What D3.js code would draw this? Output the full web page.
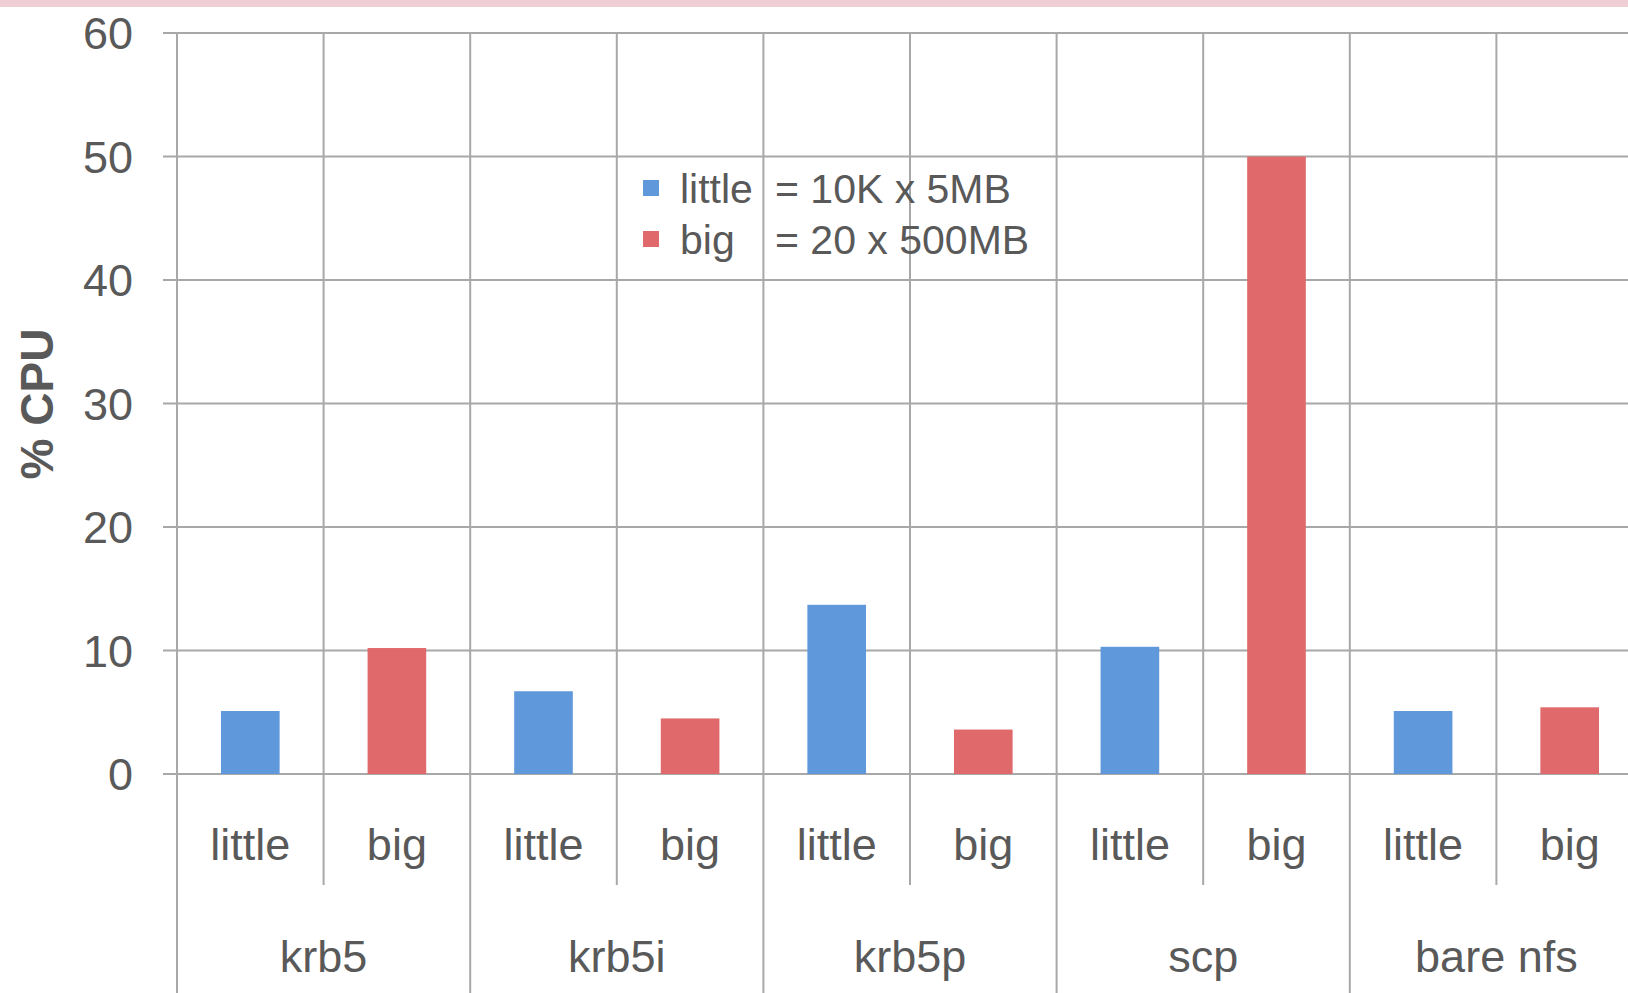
<!DOCTYPE html>
<html>
<head>
<meta charset="utf-8">
<script src="https://cdn.jsdelivr.net/npm/d3@7"></script>
<style>
  html, body { margin: 0; padding: 0; background: #fff; overflow: hidden; }
  svg { display: block; font-family: "Liberation Sans", Arial, sans-serif; }
</style>
</head>
<body>
<div id="chart"></div>
<script>
// data
const categories = ["krb5", "krb5i", "krb5p", "scp", "bare nfs"];
const sizes = ["little", "big"];
const littleValues = [5.1, 6.7, 13.7, 10.3, 5.1];
const bigValues = [10.2, 4.5, 3.6, 50, 5.4];
const yTicks = [0, 10, 20, 30, 40, 50, 60];
const legendNames = ["little", "big"];
const legendText = ["= 10K x 5MB", "= 20 x 500MB"];

const width = 1628, height = 993;
const colorLittle = "#6098dc";
const colorBig = "#e06a6b";
const colorText = "#595959";
const colorGrid = "#a8a8a8";

const plotLeft = 177, plotTop = 33, plotBottom = 774;
const slot = 146.6;

const svg = d3.select("#chart").append("svg")
    .attr("width", width)
    .attr("height", height);

// pink strip along the top
svg.append("rect")
    .attr("x", 0).attr("y", 0)
    .attr("width", width).attr("height", 7)
    .attr("fill", "#f0ced6");

const y = d3.scaleLinear().domain([0, 60]).range([plotBottom, plotTop]);

const x0 = d3.scaleBand()
    .domain(categories)
    .range([plotLeft, plotLeft + slot * 2 * categories.length]);

const x1 = d3.scaleBand()
    .domain(sizes)
    .range([0, x0.bandwidth()]);

// horizontal grid + tick stubs
svg.append("g")
    .selectAll("line")
    .data(yTicks)
    .join("line")
    .attr("x1", plotLeft - 14)
    .attr("x2", width)
    .attr("y1", d => y(d))
    .attr("y2", d => y(d))
    .attr("stroke", colorGrid)
    .attr("stroke-width", 2);

// vertical lines: category borders go to the bottom, size borders stop short
const catBorders = categories.map(c => x0(c));
svg.append("g")
    .selectAll("line")
    .data(catBorders)
    .join("line")
    .attr("x1", d => d).attr("x2", d => d)
    .attr("y1", plotTop).attr("y2", height)
    .attr("stroke", colorGrid)
    .attr("stroke-width", 2);

svg.append("g")
    .selectAll("line")
    .data(categories)
    .join("line")
    .attr("x1", d => x0(d) + x1("big"))
    .attr("x2", d => x0(d) + x1("big"))
    .attr("y1", plotTop).attr("y2", 885)
    .attr("stroke", colorGrid)
    .attr("stroke-width", 2);

// y tick labels
svg.append("g")
    .selectAll("text")
    .data(yTicks)
    .join("text")
    .attr("x", 133)
    .attr("y", d => y(d) + 16)
    .attr("text-anchor", "end")
    .attr("fill", colorText)
    .style("font-size", "45px")
    .text(d => d);

// y axis title
svg.append("text")
    .attr("transform", "translate(53,404) rotate(-90)")
    .attr("text-anchor", "middle")
    .attr("fill", colorText)
    .style("font-size", "46px")
    .style("font-weight", "bold")
    .text("% CPU");

// bars
const rows = categories.map((c, i) => ({ cat: c, little: littleValues[i], big: bigValues[i] }));
const barW = x1.bandwidth() * 0.4;
const colors = { little: colorLittle, big: colorBig };

svg.append("g")
    .selectAll("g")
    .data(rows)
    .join("g")
    .attr("transform", d => `translate(${x0(d.cat)},0)`)
    .selectAll("rect")
    .data(d => sizes.map(s => ({ size: s, value: d[s] })))
    .join("rect")
    .attr("x", d => x1(d.size) + (x1.bandwidth() - barW) / 2)
    .attr("width", barW)
    .attr("y", d => y(d.value))
    .attr("height", d => y(0) - y(d.value))
    .attr("fill", d => colors[d.size]);

// size labels under each bar
svg.append("g")
    .selectAll("g")
    .data(categories)
    .join("g")
    .attr("transform", d => `translate(${x0(d)},0)`)
    .selectAll("text")
    .data(sizes)
    .join("text")
    .attr("x", d => x1(d) + x1.bandwidth() / 2)
    .attr("y", 860)
    .attr("text-anchor", "middle")
    .attr("fill", colorText)
    .style("font-size", "45px")
    .text(d => d);

// category labels
svg.append("g")
    .selectAll("text")
    .data(categories)
    .join("text")
    .attr("x", d => x0(d) + x0.bandwidth() / 2)
    .attr("y", 972)
    .attr("text-anchor", "middle")
    .attr("fill", colorText)
    .style("font-size", "45px")
    .text(d => d);

// legend
const legend = svg.append("g")
    .selectAll("g")
    .data(legendNames)
    .join("g")
    .attr("transform", (d, i) => `translate(643,${203 + i * 51})`);

legend.append("rect")
    .attr("x", 0).attr("y", -23)
    .attr("width", 16).attr("height", 16)
    .attr("fill", d => colors[d]);

const legendLabel = legend.append("text")
    .attr("y", 0)
    .attr("fill", colorText)
    .style("font-size", "41px");

legendLabel.append("tspan")
    .attr("x", 37)
    .text(d => d);

legendLabel.append("tspan")
    .attr("x", 132)
    .text((d, i) => legendText[i]);
</script>
</body>
</html>
